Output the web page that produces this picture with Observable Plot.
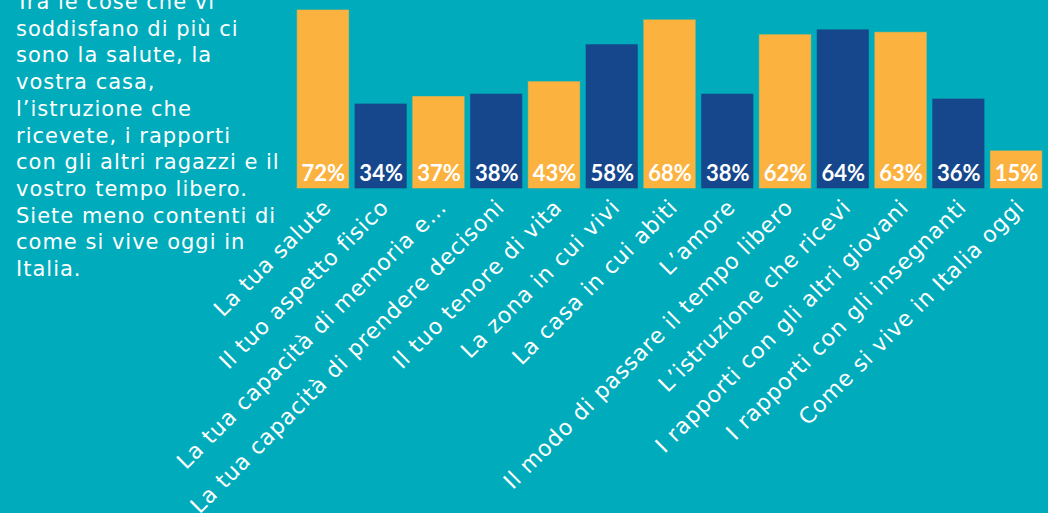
<!DOCTYPE html>
<html>
<head>
<meta charset="utf-8">
<script src="https://cdn.jsdelivr.net/npm/d3@7"></script>
<script src="https://cdn.jsdelivr.net/npm/@observablehq/plot@0.6"></script>
<style>
  html, body { margin: 0; padding: 0; background: #00ACBB; overflow: hidden; }
  #wrap { position: relative; width: 1048px; height: 513px; }
  #note {
    position: absolute; left: 16px; top: -11px;
    color: #fff; font-family: "DejaVu Sans", sans-serif; font-size: 21px;
    letter-spacing: 1px; line-height: 26.7px; white-space: nowrap;
  }
  #chart { position: absolute; left: 0; top: 0; }
  #chart g[aria-label="x-axis tick label"] text { letter-spacing: 0.9px; }
</style>
</head>
<body>
<div id="wrap">
  <div id="chart"></div>
  <div id="note">Tra le cose che vi<br>soddisfano di più ci<br>sono la salute, la<br>vostra casa,<br>l’istruzione che<br>ricevete, i rapporti<br>con gli altri ragazzi e il<br>vostro tempo libero.<br>Siete meno contenti di<br>come si vive oggi in<br>Italia.</div>
</div>
<script>
const categories = [
  "La tua salute",
  "Il tuo aspetto fisico",
  "La tua capacità di memoria e…",
  "La tua capacità di prendere decisoni",
  "Il tuo tenore di vita",
  "La zona in cui vivi",
  "La casa in cui abiti",
  "L’amore",
  "Il modo di passare il tempo libero",
  "L’istruzione che ricevi",
  "I rapporti con gli altri giovani",
  "I rapporti con gli insegnanti",
  "Come si vive in Italia oggi"
];
const values = [72, 34, 37, 38, 43, 58, 68, 38, 62, 64, 63, 36, 15];
const groups = ["alto", "basso", "alto", "basso", "alto", "basso", "alto", "basso", "alto", "basso", "alto", "basso", "alto"];

const data = categories.map((c, i) => ({category: c, value: values[i], group: groups[i]}));

const chart = Plot.plot({
  width: 1048,
  height: 513,
  marginLeft: 294,
  marginRight: 3,
  marginTop: 10,
  marginBottom: 325,
  style: {background: "transparent", fontFamily: "DejaVu Sans, sans-serif", color: "#fff", overflow: "hidden"},
  x: {domain: categories, paddingInner: 0.11, paddingOuter: 0.055, align: 0.5, round: false},
  y: {domain: [0, 72], axis: null},
  color: {domain: ["alto", "basso"], range: ["#FCB23F", "#16478C"]},
  marks: [
    Plot.barY(data, {x: "category", y: "value", fill: "group", stroke: "group", strokeOpacity: 0.6, strokeWidth: 1}),
    Plot.text(data, {x: "category", y: 0, text: d => d.value + "%", dy: -15, fill: "#fff", fontSize: 22, fontWeight: "bold", fontFamily: "Lato, sans-serif"}),
    Plot.axisX({tickSize: 0, tickPadding: 15, dx: 4, tickRotate: -45, fontSize: 22, fill: "#fff", label: null})
  ]
});
document.getElementById("chart").appendChild(chart);
</script>
</body>
</html>
